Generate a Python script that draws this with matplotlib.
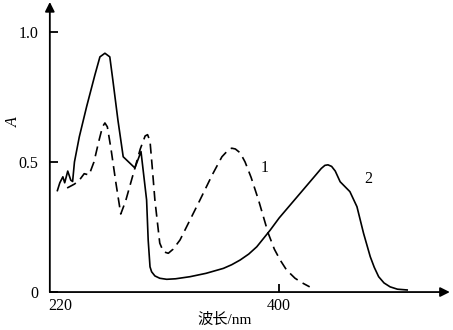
import numpy as np
import matplotlib.pyplot as plt

plt.rcParams['font.family'] = ['Liberation Serif', 'Noto Sans CJK SC']

# curve 1 (dashed)
wl_1 = [226, 232, 236, 240, 244, 248, 252, 255, 257, 259, 262, 266, 270, 274,
        280, 286, 290, 292, 294, 296, 298, 302, 305, 309, 313, 318.6, 326.8,
        335, 345, 353, 358, 361, 364, 368, 372, 377, 383, 391, 396, 400.8,
        406, 413, 419, 425]
a_1 = [0.40, 0.415, 0.43, 0.455, 0.45, 0.50, 0.58, 0.635, 0.65, 0.635, 0.55,
       0.42, 0.30, 0.35, 0.45, 0.55, 0.60, 0.605, 0.58, 0.47, 0.354, 0.188,
       0.155, 0.149, 0.165, 0.20, 0.277, 0.354, 0.45, 0.52, 0.545, 0.553,
       0.55, 0.535, 0.50, 0.44, 0.354, 0.226, 0.165, 0.123, 0.085, 0.053,
       0.035, 0.02]

# curve 2 (solid)
wl_2 = [218, 220, 222.5, 224, 226.5, 229, 230.5, 232, 236, 242, 248.8, 252.9,
        257, 261, 263.5, 267.7, 272, 281.6, 286.6, 291.2, 292.5, 294, 295.3,
        298, 302, 307.7, 315, 326.8, 340, 354.2, 361, 367.9, 375, 381.6,
        392.6, 400, 410, 420, 430, 434.5, 437.5, 440, 443, 446, 450,
        458, 463.8, 469.2, 474.7, 478, 481.6, 486, 491, 497, 505]
a_2 = [0.39, 0.42, 0.443, 0.42, 0.465, 0.43, 0.425, 0.50, 0.597, 0.713, 0.835,
       0.904, 0.918, 0.904, 0.815, 0.66, 0.52, 0.477, 0.54, 0.354, 0.20,
       0.097, 0.078, 0.062, 0.053, 0.049, 0.051, 0.059, 0.072, 0.091, 0.105,
       0.123, 0.146, 0.174, 0.238, 0.285, 0.34, 0.395, 0.45, 0.475,
       0.487, 0.489, 0.483, 0.465, 0.424, 0.386, 0.328, 0.226, 0.136, 0.095,
       0.059, 0.035, 0.02, 0.011, 0.008]

fig = plt.figure(figsize=(4.53, 3.30), dpi=100)
ax = fig.add_axes([0.110, 0.115, 0.883, 0.879])

ax.plot(wl_1, a_1, color='black', lw=1.2, dashes=(6, 3.5))
ax.plot(wl_2, a_2, color='black', lw=1.2)

ax.set_xlim(211.8, 540)
ax.set_ylim(0, 1.115)

for s in ax.spines.values():
    s.set_visible(False)

# axes drawn as arrows
arrow = dict(arrowstyle='-|>', color='black', lw=1.3, mutation_scale=14,
             shrinkA=0, shrinkB=0)
ax.annotate('', xy=(1, 0), xytext=(0, 0), xycoords='axes fraction', arrowprops=arrow)
ax.annotate('', xy=(0, 1), xytext=(0, 0), xycoords='axes fraction', arrowprops=arrow)

ax.set_yticks([0, 0.5, 1.0])
ax.set_yticklabels(['0', '0.5', '1.0'])
ax.set_xticks([220, 400])
ax.set_xticklabels(['220', '400'])
ax.tick_params(direction='in', length=6, width=1.3, labelsize=11.5)
ax.tick_params(axis='y', pad=8)
ax.tick_params(axis='x', pad=4)
ax.xaxis.get_major_ticks()[0].tick1line.set_visible(False)

ax.text(388, 0.477, '1', fontsize=11.5, ha='center', va='center')
ax.text(473.3, 0.435, '2', fontsize=11.5, ha='center', va='center')

ax.text(-0.09, 0.585, 'A', transform=ax.transAxes, fontsize=11.5, style='italic',
        rotation=90, ha='center', va='center')
ax.text(354.8, -0.108, '波长/nm', fontsize=11, ha='center', va='center')

fig.savefig('out.png', dpi=100)
